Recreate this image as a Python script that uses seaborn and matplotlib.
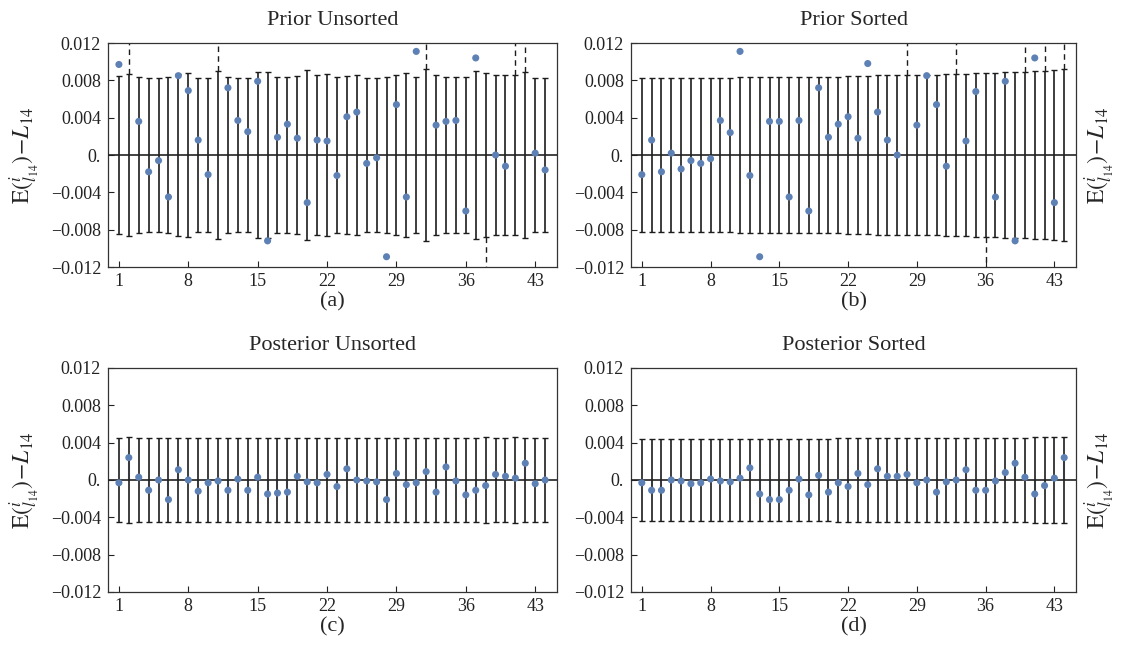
import numpy as np
import pandas as pd
import matplotlib.pyplot as plt
import seaborn as sns

sns.set_theme(style="ticks")
plt.rcParams["font.family"] = ["Liberation Serif", "DejaVu Serif"]
plt.rcParams["mathtext.fontset"] = "stix"

# index of each mode (1..44)
idx = list(range(1, 45))

# values beyond +-0.012 are off the plot (drawn with a dashed bar in the original)
prior_unsorted = [0.0097, 0.013, 0.0036, -0.0018, -0.0006, -0.0045, 0.0085, 0.0069, 0.0016, -0.0021,
                  0.013, 0.0072, 0.0037, 0.0025, 0.0079, -0.0092, 0.0019, 0.0033, 0.0018, -0.0051,
                  0.0016, 0.0015, -0.0022, 0.0041, 0.0046, -0.0009, -0.0003, -0.0109, 0.0054, -0.0045,
                  0.0111, 0.013, 0.0032, 0.0036, 0.0037, -0.0060, 0.0104, -0.013, 0.0000, -0.0012,
                  0.013, 0.013, 0.0002, -0.0016]
prior_unsorted_err = [0.0085, 0.0087, 0.0084, 0.0083, 0.0083, 0.0084, 0.0087, 0.0088, 0.0083, 0.0082,
                      0.0090, 0.0084, 0.0083, 0.0083, 0.0089, 0.0089, 0.0084, 0.0084, 0.0085, 0.0091,
                      0.0086, 0.0087, 0.0084, 0.0085, 0.0086, 0.0083, 0.0083, 0.0084, 0.0086, 0.0088,
                      0.0084, 0.0092, 0.0086, 0.0084, 0.0084, 0.0084, 0.0090, 0.0088, 0.0086, 0.0086,
                      0.0086, 0.0089, 0.0083, 0.0083]

prior_sorted = [-0.0021, 0.0016, -0.0018, 0.0002, -0.0015, -0.0006, -0.0009, -0.0004, 0.0037, 0.0024,
                0.0111, -0.0022, -0.0109, 0.0036, 0.0036, -0.0045, 0.0037, -0.0060, 0.0072, 0.0019,
                0.0033, 0.0041, 0.0018, 0.0098, 0.0046, 0.0016, 0.0000, 0.013, 0.0032, 0.0085,
                0.0054, -0.0012, 0.013, 0.0015, 0.0068, -0.013, -0.0045, 0.0079, -0.0092, 0.013,
                0.0104, 0.013, -0.0051, 0.013]
prior_sorted_err = [0.0082, 0.0083, 0.0083, 0.0083, 0.0083, 0.0083, 0.0083, 0.0083, 0.0083, 0.0083,
                    0.0084, 0.0084, 0.0084, 0.0084, 0.0084, 0.0084, 0.0084, 0.0084, 0.0084, 0.0084,
                    0.0084, 0.0085, 0.0085, 0.0085, 0.0086, 0.0086, 0.0086, 0.0086, 0.0086, 0.0086,
                    0.0086, 0.0087, 0.0087, 0.0087, 0.0088, 0.0088, 0.0088, 0.0089, 0.0089, 0.0089,
                    0.0090, 0.0090, 0.0091, 0.0092]

post_unsorted = [-0.0003, 0.0024, 0.0003, -0.0011, 0.0000, -0.0021, 0.0011, 0.0000, -0.0012, -0.0003,
                 -0.0001, -0.0011, 0.0001, -0.0011, 0.0003, -0.0015, -0.0014, -0.0013, 0.0004, -0.0002,
                 -0.0003, 0.0006, -0.0007, 0.0012, 0.0000, -0.0001, -0.0002, -0.0021, 0.0007, -0.0005,
                 -0.0003, 0.0009, -0.0013, 0.0014, -0.0001, -0.0016, -0.0011, -0.0006, 0.0006, 0.0004,
                 0.0002, 0.0018, -0.0004, 0.0000]
post_unsorted_err = [0.0045, 0.0046, 0.0045, 0.0045, 0.0045, 0.0045, 0.0045, 0.0045, 0.0045, 0.0045,
                     0.0045, 0.0045, 0.0045, 0.0045, 0.0045, 0.0045, 0.0045, 0.0045, 0.0045, 0.0045,
                     0.0045, 0.0045, 0.0045, 0.0045, 0.0045, 0.0045, 0.0045, 0.0045, 0.0045, 0.0045,
                     0.0045, 0.0045, 0.0045, 0.0045, 0.0045, 0.0045, 0.0045, 0.0046, 0.0045, 0.0045,
                     0.0046, 0.0045, 0.0045, 0.0045]

post_sorted = [-0.0003, -0.0011, -0.0011, 0.0000, -0.0001, -0.0004, -0.0003, 0.0001, -0.0001, -0.0002,
               0.0002, 0.0013, -0.0015, -0.0021, -0.0021, -0.0011, 0.0001, -0.0016, 0.0005, -0.0013,
               -0.0003, -0.0007, 0.0007, -0.0005, 0.0012, 0.0004, 0.0004, 0.0006, -0.0003, 0.0000,
               -0.0013, -0.0002, 0.0000, 0.0011, -0.0011, -0.0011, -0.0001, 0.0008, 0.0018, 0.0003,
               -0.0015, -0.0006, 0.0002, 0.0024]
post_sorted_err = [0.0044, 0.0044, 0.0044, 0.0044, 0.0044, 0.0044, 0.0044, 0.0044, 0.0044, 0.0044,
                   0.0044, 0.0044, 0.0044, 0.0044, 0.0044, 0.0044, 0.0044, 0.0044, 0.0044, 0.0044,
                   0.0045, 0.0045, 0.0045, 0.0045, 0.0045, 0.0045, 0.0045, 0.0045, 0.0045, 0.0045,
                   0.0045, 0.0045, 0.0045, 0.0045, 0.0045, 0.0045, 0.0045, 0.0045, 0.0045, 0.0045,
                   0.0046, 0.0046, 0.0046, 0.0046]

titles = ["Prior Unsorted", "Prior Sorted", "Posterior Unsorted", "Posterior Sorted"]
tags = ["(a)", "(b)", "(c)", "(d)"]
xticks = [1, 8, 15, 22, 29, 36, 43]
yticks = [-0.012, -0.008, -0.004, 0, 0.004, 0.008, 0.012]
ytick_labels = ["\u22120.012", "\u22120.008", "\u22120.004", "0.", "0.004", "0.008", "0.012"]

blue = "#5E81B5"
dark = "#1c1c1c"
ylim = 0.012
ylabel = r"$\mathrm{E}({}^{i}_{l_{14}})\!-\!L_{14}$"

fig = plt.figure(figsize=(11.23, 6.5), dpi=100)
W, H = 1123, 650
boxes = [(108, 43, 557, 267), (631, 43, 1076, 267), (108, 368, 557, 592), (631, 368, 1076, 592)]

panels = [(prior_unsorted, prior_unsorted_err, False),
          (prior_sorted, prior_sorted_err, False),
          (post_unsorted, post_unsorted_err, True),
          (post_sorted, post_sorted_err, True)]

for k, ((vals, errs, stems), (x0, y0, x1, y1)) in enumerate(zip(panels, boxes)):
    ax = fig.add_axes([x0 / W, 1 - y1 / H, (x1 - x0) / W, (y1 - y0) / H])
    df = pd.DataFrame({"i": idx, "v": vals, "e": errs})

    if stems:
        ax.vlines(df["i"], 0, df["v"], color=blue, alpha=0.35, lw=1.6, zorder=1)

    ax.errorbar(df["i"], np.zeros(len(df)), yerr=df["e"], fmt="none", ecolor=dark,
                elinewidth=1.2, capsize=2.2, capthick=1.0, zorder=2)

    # dashed continuation for points that fall outside the plot range
    out = df[df["v"].abs() > ylim]
    for _, r in out.iterrows():
        s = np.sign(r["v"])
        ax.plot([r["i"], r["i"]], [s * r["e"], s * ylim], color=dark, lw=1.0,
                ls=(0, (4, 3)), zorder=2)

    ax.axhline(0, color="#222222", lw=1.2, zorder=3)
    sns.scatterplot(data=df, x="i", y="v", color=blue, s=26, edgecolor="none",
                    ax=ax, zorder=4, legend=False)

    ax.set_xlim(-0.1, 45.2)
    ax.set_ylim(-ylim, ylim)
    ax.set_xticks(xticks)
    ax.set_yticks(yticks)
    ax.set_yticklabels(ytick_labels)
    ax.set_xlabel("")
    ax.set_ylabel("")
    ax.tick_params(direction="in", length=4, width=0.8, labelsize=13, pad=5, colors="#222222")
    ax.tick_params(axis="x", pad=4)
    for sp in ax.spines.values():
        sp.set_color("#333333")
        sp.set_linewidth(0.9)

    ax.set_title(titles[k], fontsize=16, pad=13)
    fig.text((x0 + x1) / 2 / W, 1 - (y1 + 35) / H, tags[k], fontsize=16,
             ha="center", va="center")

# y labels: left side for (a), (c), right side for (b), (d)
for yc in (155, 480):
    fig.text(25 / W, 1 - yc / H, ylabel, rotation=90, fontsize=17, ha="center", va="center")
    fig.text(1100 / W, 1 - yc / H, ylabel, rotation=90, fontsize=17, ha="center", va="center")

fig.savefig("out.png", dpi=100)
